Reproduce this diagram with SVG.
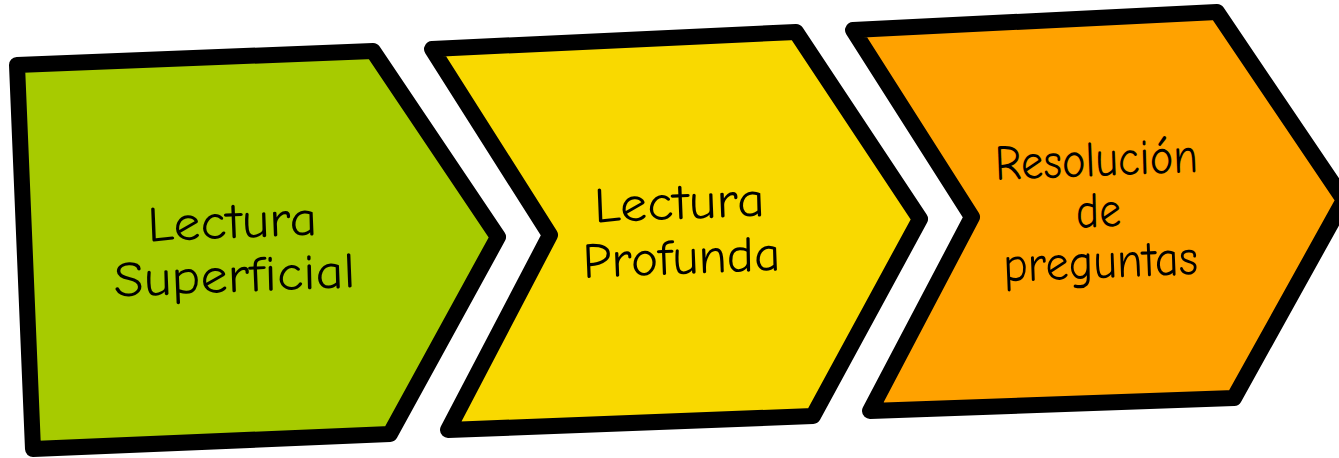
<svg xmlns="http://www.w3.org/2000/svg" width="1339" height="458" viewBox="0 0 1339 458">
<style>
.shape{stroke:#000;stroke-width:16;stroke-linejoin:round}
.lbl{font-family:"Comic Sans MS","Comic Neue","Liberation Sans",sans-serif;font-size:50px;fill:#000;text-anchor:middle}
</style>
<rect width="1339" height="458" fill="#fff"/>
<g id="node-superficial">
<polygon class="shape" fill="#A7CB00" points="17,65 373,51 498,237 390,434 33,449"/>
<g transform="rotate(-2.3 234 264)">
<text class="lbl" x="234" y="238" textLength="170" lengthAdjust="spacingAndGlyphs">Lectura</text>
<text class="lbl" x="234" y="292" textLength="242" lengthAdjust="spacingAndGlyphs">Superficial</text>
</g>
</g>
<g id="node-profunda">
<polygon class="shape" fill="#F9D900" points="432,49 796,32 920,219 813,416 448,430 550,235"/>
<g transform="rotate(-2.3 681 246)">
<text class="lbl" x="681" y="219" textLength="171" lengthAdjust="spacingAndGlyphs">Lectura</text>
<text class="lbl" x="681" y="274" textLength="198" lengthAdjust="spacingAndGlyphs">Profunda</text>
</g>
</g>
<g id="node-resolucion">
<polygon class="shape" fill="#FFA200" points="853,30 1217,12 1344,200 1234,398 870,411 972,217"/>
<g transform="rotate(-2.3 1099 226)">
<text class="lbl" x="1099" y="176" textLength="203" lengthAdjust="spacingAndGlyphs">Resolución</text>
<text class="lbl" x="1099" y="227" textLength="45" lengthAdjust="spacingAndGlyphs">de</text>
<text class="lbl" x="1099" y="278" textLength="195" lengthAdjust="spacingAndGlyphs">preguntas</text>
</g>
</g>
<g id="connectors"/>
</svg>
